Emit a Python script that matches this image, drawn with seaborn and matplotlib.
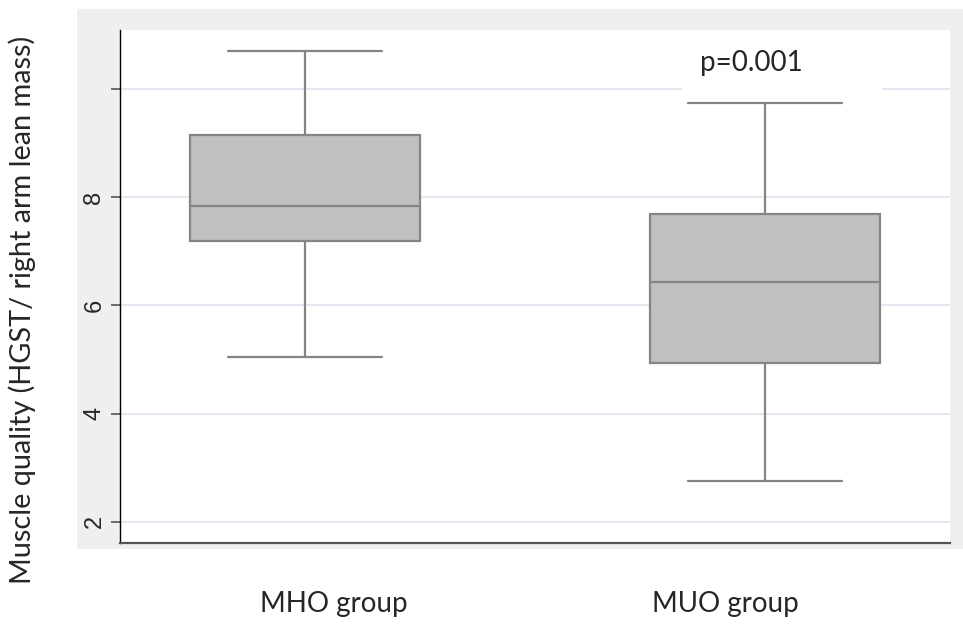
import pandas as pd
import matplotlib.pyplot as plt
import seaborn as sns
from matplotlib.patches import Rectangle

# five-number summaries (whisker low, Q1, median, Q3, whisker high)
groups = ["MHO group", "MUO group"]
mho_vals = [5.04, 7.19, 7.83, 9.15, 10.70]
muo_vals = [2.76, 4.93, 6.44, 7.69, 9.74]
y_ticks = [2, 4, 6, 8, 10]
y_ticklabels = ["2", "4", "6", "8", ""]
p_text = "p=0.001"
y_title = "Muscle quality (HGST/ right arm lean mass)"

df = pd.DataFrame({
    "group": [groups[0]] * len(mho_vals) + [groups[1]] * len(muo_vals),
    "value": mho_vals + muo_vals,
})

sns.set_theme(style="white")
plt.rcParams["font.family"] = ["Lato", "DejaVu Sans"]

W, H = 963, 630
fig = plt.figure(figsize=(W / 100, H / 100), dpi=100)
fig.patch.set_facecolor("white")

# grey Stata-style plot region behind the axes
fig.patches.append(Rectangle((77 / W, 1 - 549 / H), (W - 77) / W, (549 - 9) / H,
                             transform=fig.transFigure, facecolor="#efefef",
                             edgecolor="none", zorder=-5))

ax = fig.add_axes([120 / W, 1 - 543 / H, (950 - 120) / W, (543 - 30) / H])
ax.set_facecolor("white")

box_w = 0.5
sns.boxplot(data=df, x="group", y="value", ax=ax, width=box_w, color="#c0c0c0",
            linecolor="#858585", linewidth=1.6, saturation=1, whis=1.5)

# widen the whisker caps (Stata draws them ~2/3 of the box width)
for line in ax.lines:
    xs, ys = line.get_xdata(), line.get_ydata()
    if len(xs) == 2 and ys[0] == ys[1] and abs(xs[1] - xs[0]) < 0.8 * box_w:
        mid = (xs[0] + xs[1]) / 2
        half = box_w * 0.67 / 2
        line.set_xdata([mid - half, mid + half])

ax.set_xlim(-0.402, 1.402)
ax.set_ylim(1.61, 11.09)
ax.set_yticks(y_ticks)
ax.set_yticklabels(y_ticklabels, rotation=90, va="center",
                   family=["Liberation Sans"], fontsize=17)
ax.set_xticks([])
ax.set_xlabel("")
ax.set_ylabel("")
ax.tick_params(axis="y", which="both", left=True, length=6.5, width=1.2,
               color="#555555", pad=4)
ax.yaxis.grid(True, color="#e1e5ef", linewidth=1.3)
ax.set_axisbelow(True)

for side in ["top", "right"]:
    ax.spines[side].set_visible(False)
ax.spines["left"].set_color("black")
ax.spines["left"].set_linewidth(1.0)
ax.spines["bottom"].set_color("#555555")
ax.spines["bottom"].set_linewidth(1.6)

# white patch behind the p-value, hiding the gridline
ax.add_patch(Rectangle((0.82, 9.85), 0.434, 1.3, facecolor="white",
                       edgecolor="none", zorder=1.5))
ax.text(0.97, 10.48, p_text, ha="center", va="center", fontsize=20, zorder=3)

# category labels sit under the grey panel
fig.text(334 / W, 1 - 604 / H, groups[0], ha="center", va="center", fontsize=20)
fig.text(725 / W, 1 - 604 / H, groups[1], ha="center", va="center", fontsize=20)
fig.text(22 / W, 1 - 310 / H, y_title, rotation=90, ha="center", va="center",
         fontsize=20.8)

fig.savefig("out.png", dpi=100)
